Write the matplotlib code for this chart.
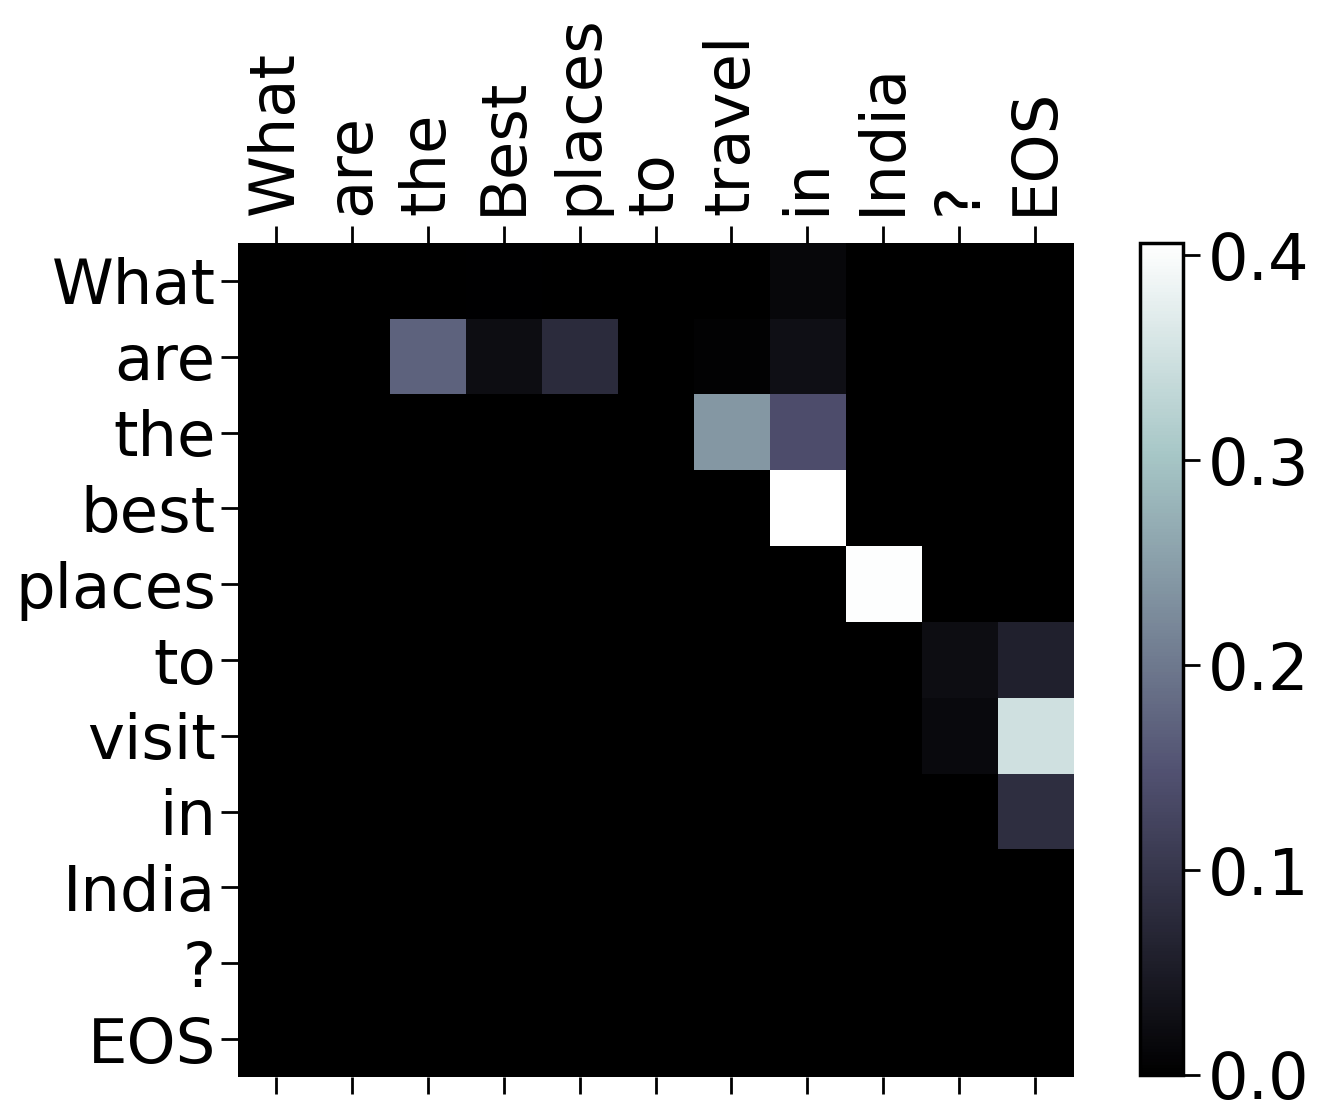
import numpy as np
import matplotlib
matplotlib.use("Agg")
import matplotlib.pyplot as plt

# input (source) words on top, output words on the left
input_words = ['What', 'are', 'the', 'Best', 'places', 'to', 'travel', 'in', 'India', '?', 'EOS']
output_words = ['What', 'are', 'the', 'best', 'places', 'to', 'visit', 'in', 'India', '?', 'EOS']

# attention weights, one row per output word
row_what   = [0.0, 0.0, 0.0, 0.003, 0.0, 0.0, 0.0, 0.015, 0.0, 0.0, 0.0]
row_are    = [0.0, 0.0, 0.17, 0.025, 0.08, 0.0, 0.005, 0.03, 0.0, 0.0, 0.0]
row_the    = [0.0, 0.0, 0.0, 0.0, 0.0, 0.0, 0.24, 0.14, 0.0, 0.0, 0.0]
row_best   = [0.0, 0.0, 0.0, 0.0, 0.0, 0.0, 0.0, 0.406, 0.0, 0.0, 0.0]
row_places = [0.0, 0.0, 0.0, 0.0, 0.0, 0.0, 0.0, 0.0, 0.403, 0.0, 0.0]
row_to     = [0.0, 0.0, 0.0, 0.0, 0.0, 0.0, 0.0, 0.0, 0.0, 0.025, 0.06]
row_visit  = [0.0, 0.0, 0.0, 0.0, 0.0, 0.0, 0.0, 0.0, 0.0, 0.018, 0.35]
row_in     = [0.0, 0.0, 0.0, 0.0, 0.0, 0.0, 0.0, 0.0, 0.0, 0.0, 0.085]
row_india  = [0.0, 0.0, 0.0, 0.0, 0.0, 0.0, 0.0, 0.0, 0.0, 0.0, 0.0]
row_q      = [0.0, 0.0, 0.0, 0.0, 0.0, 0.0, 0.0, 0.0, 0.0, 0.0, 0.0]
row_eos    = [0.0, 0.0, 0.0, 0.0, 0.0, 0.0, 0.0, 0.0, 0.0, 0.0, 0.0]

attentions = np.array([row_what, row_are, row_the, row_best, row_places, row_to,
                       row_visit, row_in, row_india, row_q, row_eos])

fig = plt.figure(figsize=(13.2, 11.2), dpi=100)
ax = fig.add_axes([0.1803, 0.0384, 0.6326, 0.7446])
cax = ax.matshow(attentions, cmap='bone', aspect='auto')

cb_ax = fig.add_axes([0.8636, 0.0402, 0.0326, 0.743])
cbar = fig.colorbar(cax, cax=cb_ax)
cbar.set_ticks([0.0, 0.1, 0.2, 0.3, 0.4])
cbar.ax.tick_params(labelsize=46, length=12, width=2, pad=6)
cbar.outline.set_linewidth(2.5)

ax.set_xticks(range(len(input_words)))
ax.set_yticks(range(len(output_words)))
ax.set_xticklabels(input_words, rotation=90, fontsize=45)
ax.set_yticklabels(output_words, fontsize=45)
ax.tick_params(axis='x', length=12, width=2, pad=8)
ax.tick_params(axis='y', length=12, width=2, pad=4)
for s in ax.spines.values():
    s.set_visible(False)

fig.savefig('out.png', dpi=100)
